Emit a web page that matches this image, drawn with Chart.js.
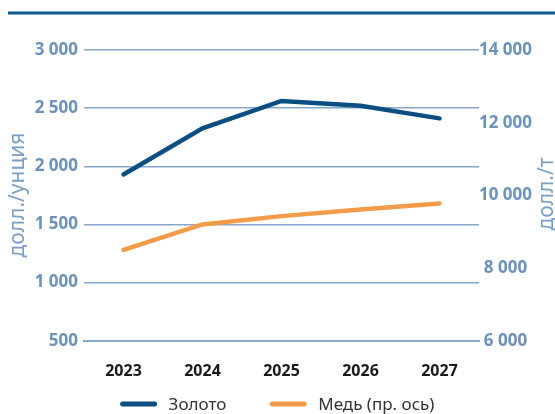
<!DOCTYPE html>
<html>
<head>
<meta charset="utf-8">
<script src="https://cdn.jsdelivr.net/npm/chart.js@4"></script>
<style>
  html, body { margin: 0; padding: 0; background: #fff; }
  #wrap { width: 555px; height: 414px; position: relative; }
</style>
</head>
<body>
<div id="wrap"><canvas id="chart-metals"></canvas></div>
<script>
// Золото и медь, прогноз цен
var years = ["2023", "2024", "2025", "2026", "2027"];
var goldData = [1930, 2326, 2562, 2520, 2412];
var copperData = [8500, 9200, 9430, 9610, 9780];
var leftTicks = [500, 1000, 1500, 2000, 2500, 3000];
var rightTicks = [6000, 8000, 10000, 12000, 14000];

var tickBlue = "#6c91bb";
var gridBlue = "#86a6cb";
var titleBlue = "#7b9ec4";
var goldColor = "#0b4f82";
var copperColor = "#f29b48";

function fmt(v) {
  return String(v).replace(/\B(?=(\d{3})+(?!\d))/g, " ");
}

function vTitle(c, text, x, y) {
  c.save();
  c.fillStyle = titleBlue;
  c.font = "21px 'Noto Sans'";
  c.textAlign = "center";
  c.textBaseline = "middle";
  c.translate(x, y);
  c.rotate(-Math.PI / 2);
  c.fillText(text, 0, 0);
  c.restore();
}

// top rule, rotated axis titles, legend
var decor = {
  id: "decor",
  afterDraw: function (chart) {
    var c = chart.ctx;
    var w = chart.width;
    c.save();
    c.strokeStyle = "#0e5a8c";
    c.lineWidth = 3;
    c.beginPath();
    c.moveTo(8, 13);
    c.lineTo(w, 13);
    c.stroke();
    c.restore();

    vTitle(c, "долл./унция", 18, 195);
    vTitle(c, "долл./т", 547, 194);

    // legend
    var ds = chart.data.datasets;
    c.save();
    c.font = "17px 'Noto Sans'";
    c.textBaseline = "middle";
    var boxW = 36, gap = 12, between = 44;
    var total = 0;
    ds.forEach(function (d, i) {
      total += boxW + gap + c.measureText(d.label).width;
      if (i < ds.length - 1) total += between;
    });
    var x = (w - total) / 2;
    var y = 404;
    ds.forEach(function (d) {
      c.strokeStyle = d.borderColor;
      c.lineWidth = 5;
      c.lineCap = "round";
      c.beginPath();
      c.moveTo(x + 2, y);
      c.lineTo(x + boxW - 2, y);
      c.stroke();
      x += boxW + gap;
      c.fillStyle = "#333";
      c.fillText(d.label, x, y + 1);
      x += c.measureText(d.label).width + between;
    });
    c.restore();
  }
};

var ctx = document.getElementById("chart-metals");
new Chart(ctx.getContext("2d"), {
  type: "line",
  data: {
    labels: years,
    datasets: [
      {
        label: "Золото",
        data: goldData,
        yAxisID: "yLeft",
        borderColor: goldColor,
        backgroundColor: goldColor,
        borderWidth: 4.5,
        pointRadius: 0,
        tension: 0,
        borderCapStyle: "round"
      },
      {
        label: "Медь (пр. ось)",
        data: copperData,
        yAxisID: "yRight",
        borderColor: copperColor,
        backgroundColor: copperColor,
        borderWidth: 4.5,
        pointRadius: 0,
        tension: 0,
        borderCapStyle: "round"
      }
    ]
  },
  options: {
    responsive: true,
    maintainAspectRatio: false,
    animation: false,
    layout: { padding: { top: 50, bottom: 12, left: 0, right: 0 } },
    plugins: {
      tooltip: { enabled: false },
      legend: { display: false }
    },
    scales: {
      x: {
        offset: true,
        grid: { display: false, drawTicks: false },
        border: { display: true, color: gridBlue, width: 2 },
        ticks: {
          color: "#1a1a1a",
          font: { family: "'Noto Sans'", size: 16, weight: "bold" },
          padding: 21
        }
      },
      yLeft: {
        position: "left",
        min: 500,
        max: 3000,
        afterBuildTicks: function (s) { s.ticks = leftTicks.map(function (v) { return { value: v }; }); },
        afterFit: function (s) { s.width = 84; },
        grid: { color: gridBlue, lineWidth: 1.5, drawTicks: false },
        border: { display: false },
        ticks: {
          color: tickBlue,
          font: { family: "'Noto Sans'", size: 17, weight: "bold" },
          padding: 6,
          callback: function (v) { return fmt(v); }
        }
      },
      yRight: {
        position: "right",
        min: 6000,
        max: 14000,
        afterBuildTicks: function (s) { s.ticks = rightTicks.map(function (v) { return { value: v }; }); },
        afterFit: function (s) { s.width = 76; },
        grid: { display: false, drawTicks: false },
        border: { display: false },
        ticks: {
          color: tickBlue,
          font: { family: "'Noto Sans'", size: 17, weight: "bold" },
          crossAlign: "center",
          padding: 0,
          callback: function (v) { return fmt(v); }
        }
      }
    }
  },
  plugins: [decor]
});
</script>
</body>
</html>
